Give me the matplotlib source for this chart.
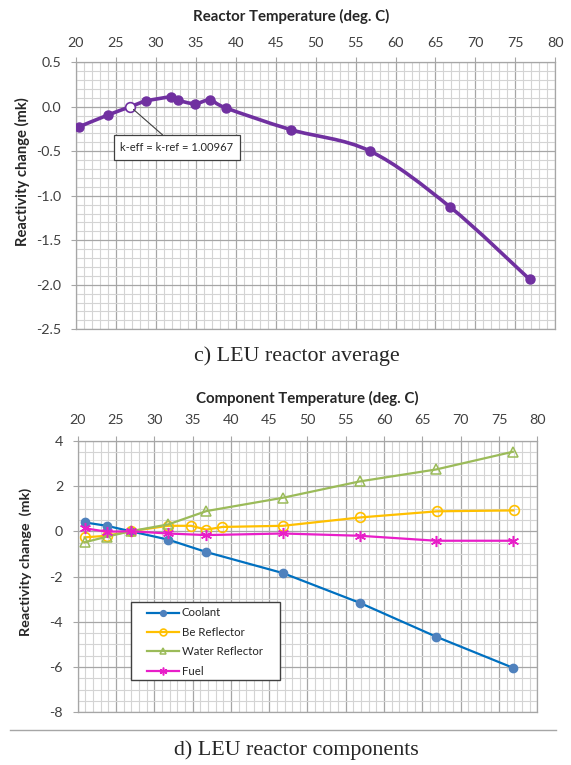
import numpy as np
import matplotlib
matplotlib.use('Agg')
import matplotlib.pyplot as plt
from matplotlib.path import Path
from matplotlib.patches import PathPatch, Rectangle
from matplotlib.ticker import MultipleLocator, FormatStrFormatter
from matplotlib.lines import Line2D

plt.rcParams['axes.unicode_minus'] = False
plt.rcParams['font.family'] = ['Lato', 'DejaVu Sans']

# ---- Panel c) LEU reactor average ----
avg_temp = [20.4, 24.0, 26.8, 28.8, 31.9, 32.8, 34.9, 36.8, 38.8, 46.9, 56.8, 66.8, 76.8]
avg_rho = [-0.225, -0.093, 0.0, 0.064, 0.109, 0.072, 0.034, 0.075, -0.015, -0.258, -0.498, -1.124, -1.94]
ref_index = 2
ref_label = "k-eff = k-ref = 1.00967"

# ---- Panel d) LEU reactor components ----
comp_temp = [20.9, 23.8, 26.9, 31.8, 36.8, 46.8, 56.8, 66.8, 76.8]
coolant = [0.39, 0.24, 0.0, -0.37, -0.92, -1.85, -3.16, -4.66, -6.03]
be_temp = [20.9, 23.8, 26.9, 31.8, 34.8, 36.8, 38.9, 46.8, 56.9, 66.9, 76.9]
be_refl = [-0.27, -0.2, 0.0, 0.24, 0.24, 0.07, 0.19, 0.24, 0.61, 0.88, 0.92]
water_refl = [-0.49, -0.24, 0.0, 0.30, 0.89, 1.48, 2.2, 2.73, 3.51]
fuel = [0.13, -0.02, 0.0, -0.1, -0.17, -0.1, -0.2, -0.42, -0.42]

W, H = 571, 765
fig = plt.figure(figsize=(W / 100, H / 100), dpi=100)

def px_rect(l, t, r, b):
    return [l / W, 1 - b / H, (r - l) / W, (b - t) / H]

TICK_COL = '#404040'
MAJ = '#a6a6a6'
MIN = '#d4d4d4'

def style_axes(ax, xmaj, xmin, ymaj, ymin, yfmt, pad_x, pad_y):
    ax.xaxis.set_major_locator(MultipleLocator(xmaj))
    ax.xaxis.set_minor_locator(MultipleLocator(xmin))
    ax.yaxis.set_major_locator(MultipleLocator(ymaj))
    ax.yaxis.set_minor_locator(MultipleLocator(ymin))
    ax.yaxis.set_major_formatter(FormatStrFormatter(yfmt))
    ax.xaxis.tick_top()
    ax.grid(which='minor', color=MIN, lw=0.8, zorder=0)
    ax.grid(which='major', color=MAJ, lw=0.9, zorder=0)
    ax.set_axisbelow(True)
    for s in ax.spines.values():
        s.set_color(MAJ)
        s.set_linewidth(0.9)
    ax.tick_params(which='major', length=3.5, color=MAJ, labelcolor=TICK_COL,
                   labelsize=10.3)
    ax.tick_params(axis='x', which='major', pad=pad_x)
    ax.tick_params(axis='y', which='major', pad=pad_y)
    ax.tick_params(which='minor', length=0)

# ----- Top chart -----
ax1 = fig.add_axes(px_rect(76, 62.2, 555.3, 329.3))
ax1.set_xlim(20, 80)
ax1.set_ylim(-2.5, 0.5)
style_axes(ax1, 5, 1, 0.5, 0.1, '%.1f', 6, 7)

# smoothed (Excel-like) curve via Bezier path in data coordinates
xs = np.array(avg_temp, float)
ys = np.array(avg_rho, float)
n = len(xs)
verts = [(xs[0], ys[0])]
codes = [Path.MOVETO]
for i in range(n - 1):
    p0 = np.array([xs[max(i - 1, 0)], ys[max(i - 1, 0)]])
    p1 = np.array([xs[i], ys[i]])
    p2 = np.array([xs[i + 1], ys[i + 1]])
    p3 = np.array([xs[min(i + 2, n - 1)], ys[min(i + 2, n - 1)]])
    c1 = p1 + (p2 - p0) / 6.0
    c2 = p2 - (p3 - p1) / 6.0
    verts += [tuple(c1), tuple(c2), tuple(p2)]
    codes += [Path.CURVE4] * 3
purple = '#7030a0'
ax1.add_patch(PathPatch(Path(verts, codes), facecolor='none', edgecolor=purple,
                        lw=2.6, capstyle='round', joinstyle='round', zorder=3))
filled = [i for i in range(n) if i != ref_index]
ax1.plot(xs[filled], ys[filled], 'o', color=purple, ms=6.5, zorder=4)
ax1.plot([xs[ref_index]], [ys[ref_index]], 'o', mfc='white', mec=purple,
         mew=1.2, ms=7, zorder=5)
ax1.annotate(ref_label, xy=(xs[ref_index], ys[ref_index]), xycoords='data',
             xytext=(177, H - 147.5), textcoords='figure pixels',
             ha='center', va='center', fontsize=8, color='#262626',
             bbox=dict(boxstyle='square,pad=0.6', fc='white', ec='#404040', lw=0.9),
             arrowprops=dict(arrowstyle='-', color='#404040', lw=0.8,
                             shrinkA=0, shrinkB=3),
             zorder=6, annotation_clip=False)

fig.text(291 / W, 1 - 16.7 / H, 'Reactor Temperature (deg. C)', ha='center',
         va='center', fontsize=10.8, fontweight='bold', color='#262626')
fig.text(22 / W, 1 - 172 / H, 'Reactivity change (mk)', ha='center',
         va='center', rotation=90, fontsize=10.6, fontweight='bold', color='#262626')
fig.text(297 / W, 1 - 356 / H, 'c) LEU reactor average', ha='center', va='center',
         fontsize=15.8, family=['Liberation Serif', 'DejaVu Serif'], color='#262626')

# ----- Bottom chart -----
ax2 = fig.add_axes(px_rect(77.7, 440.7, 537.3, 712.3))
ax2.set_xlim(20, 80)
ax2.set_ylim(-8, 4)
style_axes(ax2, 5, 1, 2, 0.5, '%d', 7, 7)

ax2.plot(comp_temp, coolant, '-o', color='#0070c0', mfc='#4f81bd', mec='#4f81bd',
         lw=1.6, ms=6, label='Coolant', zorder=4)
ax2.plot(be_temp, be_refl, '-o', color='#ffc000', mfc='none', mec='#ffc000',
         mew=1.2, lw=1.6, ms=7, label='Be Reflector', zorder=4)
ax2.plot(comp_temp, water_refl, '-^', color='#9bbb59', mfc='none', mec='#9bbb59',
         mew=1.1, lw=1.6, ms=7, label='Water Reflector', zorder=4)
ax2.plot(comp_temp, fuel, '-', color='#e81ec8', marker=(6, 2, 0), mec='#e81ec8',
         mew=1.1, lw=1.6, ms=8, label='Fuel', zorder=4)

# legend box drawn separately, legend entries without frame
ax2.add_patch(Rectangle((131, H - 680), 149, 78, transform=None, fc='white',
                        ec='#404040', lw=1.0, zorder=5))
leg = ax2.legend(loc='upper left', bbox_to_anchor=(147 / W, 1 - 607.5 / H),
                 bbox_transform=fig.transFigure, fontsize=8.2, frameon=False,
                 handlelength=2.8, handletextpad=0.27, borderpad=0,
                 labelspacing=0.74, borderaxespad=0, markerscale=0.7)
leg.set_zorder(6)
for t in leg.get_texts():
    t.set_color('#262626')

fig.text(307 / W, 1 - 398 / H, 'Component Temperature (deg. C)', ha='center',
         va='center', fontsize=10.8, fontweight='bold', color='#262626')
fig.text(26 / W, 1 - 562 / H, 'Reactivity change  (mk)', ha='center',
         va='center', rotation=90, fontsize=10.4, fontweight='bold', color='#262626')

fig.add_artist(Line2D([10 / W, 556 / W], [1 - 730 / H, 1 - 730 / H],
                      transform=fig.transFigure, color='#a6a6a6', lw=1.0))
fig.text(296 / W, 1 - 750 / H, 'd) LEU reactor components', ha='center',
         va='center', fontsize=15.8, family=['Liberation Serif', 'DejaVu Serif'],
         color='#262626')

fig.savefig('out.png', dpi=100)
